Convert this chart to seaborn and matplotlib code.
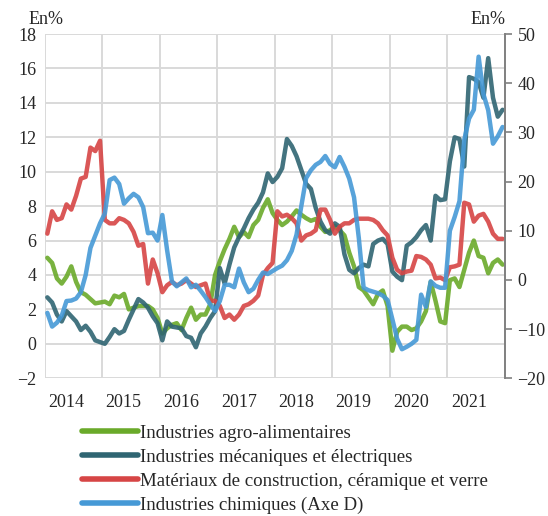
import matplotlib
matplotlib.use("Agg")
import matplotlib.pyplot as plt
import numpy as np
import pandas as pd
import seaborn as sns
from matplotlib.lines import Line2D

# Monthly data, Jan 2014 - Dec 2021
years = list(range(2014, 2022))
agro = [5.0, 4.7, 3.8, 3.5, 3.9, 4.5, 3.6, 3.0, 2.85, 2.6, 2.35, 2.4,
        2.45, 2.3, 2.8, 2.7, 2.9, 2.0, 2.1, 2.2, 2.2, 2.2, 2.0, 1.5,
        0.6, 0.9, 1.1, 1.2, 0.8, 1.5, 2.1, 1.4, 1.7, 1.7, 2.3, 4.0,
        4.8, 5.5, 6.1, 6.8, 6.2, 6.5, 6.2, 6.9, 7.2, 7.9, 8.4, 7.6,
        7.2, 6.9, 7.1, 7.4, 7.75, 7.5, 7.3, 7.15, 7.25, 6.8, 6.5, 6.6,
        6.85, 6.6, 6.3, 5.3, 4.5, 3.3, 3.1, 2.7, 2.3, 2.9, 3.1, 2.2,
        -0.4, 0.7, 1.0, 1.0, 0.8, 0.9, 1.3, 1.9, 3.6, 2.5, 1.3, 1.2,
        3.7, 3.8, 3.3, 4.3, 5.3, 6.0, 5.1, 5.0, 4.1, 4.7, 4.9, 4.6]
meca = [2.7, 2.4, 1.7, 1.3, 1.9, 1.6, 1.3, 0.8, 1.05, 0.7, 0.2, 0.1,
        0.0, 0.4, 0.85, 0.6, 0.75, 1.4, 2.0, 2.6, 2.4, 2.1, 1.6, 1.2,
        0.2, 1.3, 1.0, 0.95, 0.9, 0.45, 0.35, -0.2, 0.6, 1.0, 1.5, 1.9,
        4.4, 3.5, 4.6, 5.6, 6.2, 6.7, 7.3, 7.8, 8.2, 8.8, 9.9, 9.4,
        9.7, 10.2, 11.9, 11.5, 10.9, 10.1, 9.3, 9.0, 7.9, 7.1, 6.6, 6.4,
        7.0, 6.8, 5.2, 4.3, 4.1, 4.4, 4.6, 4.5, 5.8, 6.0, 6.1, 5.8,
        4.2, 3.9, 3.7, 5.7, 5.9, 6.2, 6.6, 6.9, 6.0, 8.6, 8.35, 8.4,
        10.6, 12.0, 11.9, 10.3, 15.5, 15.4, 15.2, 14.3, 16.6, 14.3, 13.2, 13.6]
materiaux = [6.4, 7.7, 7.2, 7.3, 8.1, 7.8, 8.6, 9.6, 9.7, 11.4, 11.2, 11.8,
             7.2, 7.0, 7.0, 7.3, 7.2, 7.0, 6.5, 5.7, 5.8, 3.5, 4.9, 4.1,
             3.0, 3.4, 3.6, 3.4, 3.5, 3.7, 3.5, 3.3, 3.4, 3.5, 2.5, 2.5,
             2.2, 1.5, 1.7, 1.4, 1.7, 2.2, 2.3, 2.5, 2.8, 4.0, 4.4, 4.7,
             7.7, 7.4, 7.5, 7.3, 7.0, 6.0, 6.3, 6.4, 6.6, 7.8, 7.8, 7.2,
             6.4, 6.8, 7.0, 7.0, 7.2, 7.27, 7.27, 7.27, 7.2, 7.0, 6.6, 6.3,
             5.0, 4.3, 4.1, 4.2, 4.25, 5.1, 5.05, 4.9, 4.6, 3.8, 3.85, 3.7,
             4.45, 4.5, 4.6, 8.2, 8.1, 7.1, 7.45, 7.55, 7.1, 6.4, 6.1, 6.1]
chimie = [-6.7, -9.5, -8.7, -7.3, -4.3, -4.2, -3.8, -2.5, 1.0, 6.5, 9.0, 11.5,
          13.5, 20.3, 20.8, 19.5, 15.5, 16.6, 17.5, 16.8, 14.8, 9.5, 9.6, 8.0,
          13.2, 6.0, -0.3, -1.3, -0.5, 0.3, -1.5, -1.0, -2.2, -3.5, -5.0, -6.3,
          -4.3, -1.0, -1.0, -1.5, 2.3, -0.5, -2.5, -1.8, 0.0, 1.5, 1.2, 1.8,
          2.4, 2.9, 4.0, 5.9, 9.2, 15.0, 20.7, 22.3, 23.4, 24.0, 25.2, 23.6,
          22.9, 25.0, 23.0, 20.6, 16.8, 8.5, -1.6, -2.1, -2.4, -2.7, -3.2, -4.1,
          -8.0, -12.0, -14.1, -13.6, -13.0, -12.2, -3.0, -5.5, -0.3, -1.2, -1.6, -1.6,
          10.0, 12.8, 16.0, 28.5, 32.8, 34.6, 45.4, 37.8, 34.5, 27.7, 29.2, 31.1]

labels = ["Industries agro-alimentaires",
          "Industries mécaniques et électriques",
          "Matériaux de construction, céramique et verre",
          "Industries chimiques (Axe D)"]
colors = ["#6aaa2a", "#2f6572", "#d64545", "#4699d6"]

sns.set_style("white")
plt.rcParams["font.family"] = ["Liberation Serif", "DejaVu Serif"]

# month centres on a year scale
x = np.array([2014 + (i + 0.5) / 12 for i in range(len(agro))])
left_df = pd.DataFrame({
    "x": np.tile(x, 3),
    "value": agro + meca + materiaux,
    "serie": np.repeat(labels[:3], len(x)),
})
right_df = pd.DataFrame({"x": x, "value": chimie})

fig = plt.figure(figsize=(5.48, 5.16), dpi=100)
ax = fig.add_axes([0.082, 0.267, 0.8395, 0.667])
ax2 = ax.twinx()

sns.lineplot(data=left_df, x="x", y="value", hue="serie", hue_order=labels[:3],
             palette=colors[:3], linewidth=3.2, alpha=0.9, legend=False, ax=ax)
sns.lineplot(data=right_df, x="x", y="value", color=colors[3],
             linewidth=3.2, alpha=0.9, legend=False, ax=ax2)

ax.set_xlim(2014, 2022)
ax.set_ylim(-2, 18)
ax.set_yticks(np.arange(-2, 19, 2))
ax2.set_ylim(-20, 50)
ax2.set_yticks(np.arange(-20, 51, 10))

ax.set_xticks(range(2014, 2023))
ax.set_xticklabels([])
ax.set_xticks([y + 0.37 for y in years], minor=True)
ax.set_xticklabels([str(y) for y in years], minor=True)
ax.tick_params(axis="x", which="both", length=0, labelsize=13, pad=11)
ax.tick_params(axis="y", length=0, labelsize=13, pad=6)
ax2.tick_params(axis="y", length=5, width=1.2, color="#808080", labelsize=13, pad=4)

ax.grid(True, which="major", color="#d9d9d9", linewidth=1.4)
ax.set_axisbelow(True)
for a in (ax, ax2):
    for side in ("top", "bottom", "left", "right"):
        a.spines[side].set_visible(False)
ax2.spines["right"].set_visible(True)
ax2.spines["right"].set_color("#808080")
ax2.spines["right"].set_linewidth(1.4)

ax.set_xlabel("")
ax.set_ylabel("")
ax2.set_ylabel("")

fig.text(0.052, 0.962, "En%", fontsize=13, ha="left", va="center")
fig.text(0.922, 0.962, "En%", fontsize=13, ha="right", va="center")

handles = [Line2D([0], [0], color=c, linewidth=4) for c in colors]
fig.legend(handles, labels, loc="upper left", bbox_to_anchor=(0.15, 0.177),
           frameon=False, fontsize=13.6, handlelength=2.95, handletextpad=0.1,
           labelspacing=0.36, borderaxespad=0, borderpad=0)

fig.savefig("out.png", dpi=100)
